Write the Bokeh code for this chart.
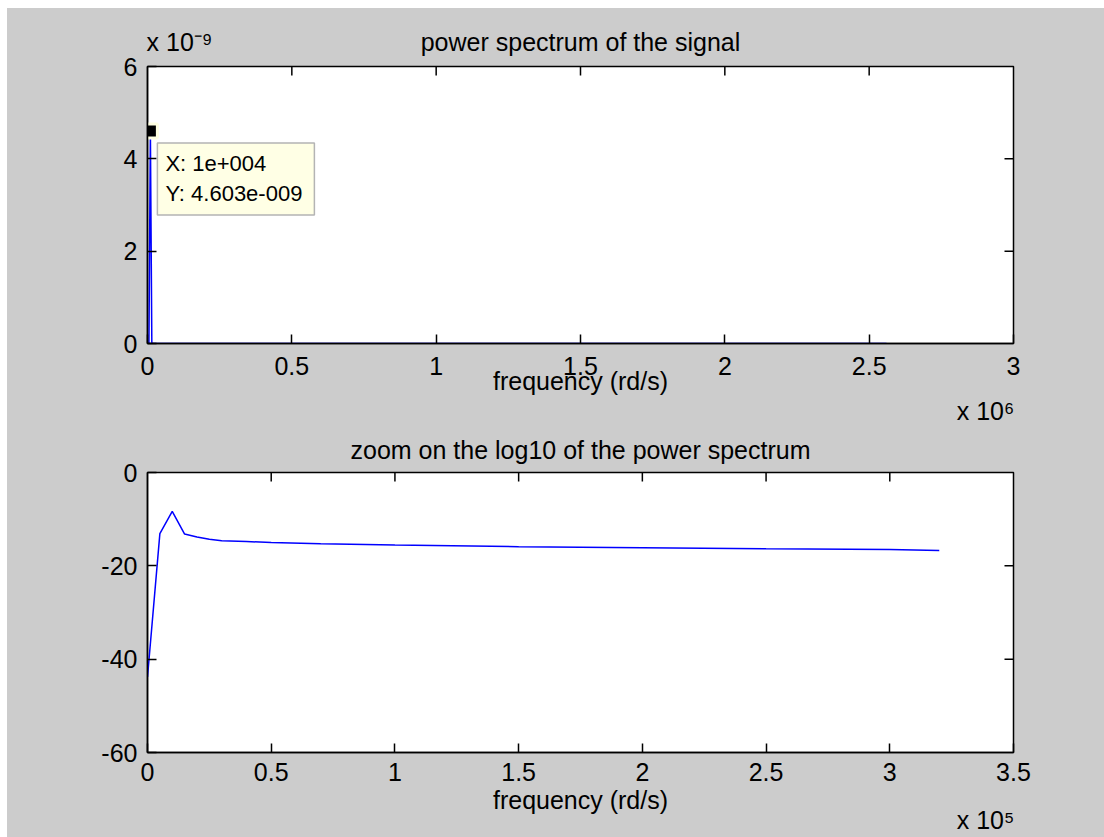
import math
import numpy as np
from bokeh.plotting import figure
from bokeh.models import (Range1d, FixedTicker, LinearAxis, Label,
                          CustomJSTickFormatter, Spacer)
from bokeh.layouts import column, row
from bokeh.embed import file_html
from bokeh.resources import INLINE

# Angular frequency samples (rd/s) and log10 of the power spectrum
freq = [0, 5000, 10000, 15000, 20000, 25000, 30000, 40000, 50000, 70000,
        100000, 150000, 200000, 250000, 300000, 320000]
log_power = [-43.8, -13.1, -8.337, -13.2, -13.8, -14.3, -14.6, -14.8, -15.0,
             -15.25, -15.55, -15.9, -16.1, -16.35, -16.5, -16.7]

# remainder of the spectrum, up to the last computed frequency
tail_freq = [2.56e6]
tail_log_power = [-18.4]

# data tip on the spectral peak
tip_x = 1e4
tip_y = 4.603e-9
tip_text = "X: 1e+004\nY: 4.603e-009"

top_xticks = [0, 0.5e6, 1e6, 1.5e6, 2e6, 2.5e6, 3e6]
top_yticks = [0, 2e-9, 4e-9, 6e-9]
bot_xticks = [0, 0.5e5, 1e5, 1.5e5, 2e5, 2.5e5, 3e5, 3.5e5]
bot_yticks = [-60, -40, -20, 0]

FONT = "Liberation Sans"
BG = "#CCCCCC"
BLUE = "#0000FF"
FS = "25px"

full_freq = np.array(freq + tail_freq, dtype=float)
full_power = 10.0 ** np.array(log_power + tail_log_power)


def font(obj, prefix):
    setattr(obj, prefix + "_font", FONT)
    setattr(obj, prefix + "_font_size", FS)
    setattr(obj, prefix + "_color", "black")


def text_axis(p, side, ticks, labels, standoff):
    """An axis with no line or tick marks, used only to place texts."""
    ax = LinearAxis(ticker=FixedTicker(ticks=ticks),
                    formatter=CustomJSTickFormatter(args=dict(labels=labels),
                                                    code="return labels[index]"),
                    axis_line_color=None, major_tick_line_color=None,
                    minor_tick_line_color=None, major_tick_in=0,
                    major_tick_out=0, major_label_standoff=standoff)
    font(ax, "major_label_text")
    p.add_layout(ax, side)


def boxed_axes(p, xticks, yticks, xfmt, yfmt, xlabel, tick_gap, label_gap,
               exponent, exp_gap):
    p.xgrid.visible = False
    p.ygrid.visible = False
    xa, ya = p.below[0], p.left[0]
    xa.ticker = FixedTicker(ticks=xticks)
    ya.ticker = FixedTicker(ticks=yticks)
    xa.formatter = CustomJSTickFormatter(code=xfmt)
    ya.formatter = CustomJSTickFormatter(code=yfmt)
    xa.major_label_standoff = tick_gap
    ya.major_label_standoff = 10
    xa.axis_label = xlabel
    xa.axis_label_standoff = label_gap
    for ax in (xa, ya):
        ax.major_tick_in = 9
        ax.major_tick_out = 0
        ax.minor_tick_line_color = None
        ax.axis_line_color = "black"
        ax.axis_line_width = 1.5
        ax.major_tick_line_width = 1.5
        font(ax, "major_label_text")
        font(ax, "axis_label_text")
        ax.axis_label_text_font_style = "normal"
    # inward ticks along the top and right edges of the box
    xr, yr = p.x_range, p.y_range
    inner_x = xticks[1:-1]
    inner_y = yticks[1:-1]
    p.ray(x=inner_x, y=[yr.end] * len(inner_x), length=9,
          length_units="screen", angle=-math.pi / 2,
          line_color="black", line_width=1.5)
    p.ray(x=[xr.end] * len(inner_y), y=inner_y, length=9,
          length_units="screen", angle=math.pi,
          line_color="black", line_width=1.5)
    # axis multiplier, ending at the right end of the x axis
    text_axis(p, "below", [xr.start + 0.9677 * (xr.end - xr.start)],
              [exponent], exp_gap)


def new_fig(height, xr, yr, top_border, bottom_border):
    return figure(width=1097, height=height, x_range=xr, y_range=yr,
                  output_backend="svg", toolbar_location=None,
                  min_border_left=140, min_border_right=91,
                  min_border_top=top_border, min_border_bottom=bottom_border,
                  background_fill_color="white", border_fill_color=BG,
                  outline_line_color="black", outline_line_width=1.5)


# ---- upper panel: linear power spectrum ----
top = new_fig(424, Range1d(0, 3e6), Range1d(0, 6e-9), 58, 89)
boxed_axes(top, top_xticks, top_yticks,
           "return String(Math.round(tick / 1e5) / 10)",
           "return String(Math.round(tick * 1e9))",
           "frequency (rd/s)", 13, -11, "x 10\u2076", -1)

# y multiplier and title share one line above the box
text_axis(top, "above", [0.111e6, 1.5e6],
          ["x 10\u207b\u2079", "power spectrum of the signal"], 11)

top.line(full_freq, full_power, line_color=BLUE, line_width=1.5)

# data tip marker and box
top.scatter([tip_x], [tip_y], marker="square", size=14, fill_color="black",
            line_color="#FFFFE1", line_width=3)
top.add_layout(Label(x=tip_x, y=tip_y, x_offset=7, y_offset=-12,
                     text=tip_text, anchor="top_left",
                     text_font=FONT, text_font_size="22px",
                     text_color="black", text_line_height=1.2,
                     background_fill_color="#FFFFE5",
                     border_line_color="#B4B4B4", border_line_width=1.5,
                     padding=(8, 12, 8, 9)))

# ---- lower panel: log10 of the power spectrum, low frequencies ----
bot = new_fig(405, Range1d(0, 3.5e5), Range1d(-60, 0), 40, 85)
boxed_axes(bot, bot_xticks, bot_yticks,
           "return String(Math.round(tick / 1e4) / 10)",
           "return String(tick)",
           "frequency (rd/s)", 10, 2, "x 10\u2075", -11)
text_axis(bot, "above", [1.75e5],
          ["zoom on the log10 of the power spectrum"], 9)
bot.line(freq, log_power, line_color=BLUE, line_width=1.5)

layout = column(Spacer(height=8),
                row(Spacer(width=7),
                    column(top, bot, styles={"background-color": BG})))

open("out.html", "w").write(file_html(layout, INLINE))
